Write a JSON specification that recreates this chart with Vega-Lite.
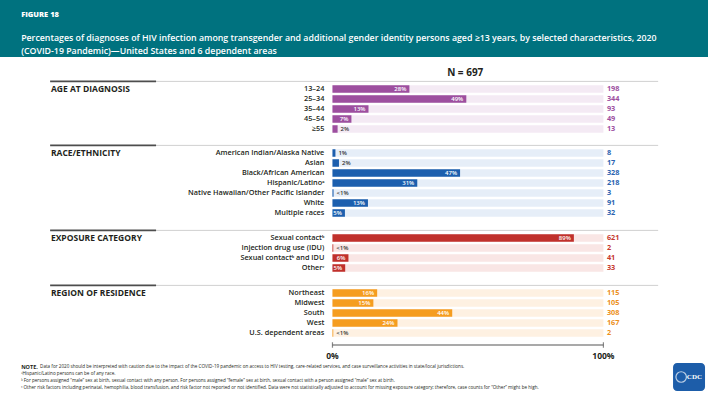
{
  "$schema": "https://vega.github.io/schema/vega-lite/v6.json",
  "background": "#ffffff",
  "padding": 0,
  "datasets": {
    "header": [
      {"kind": "fig", "text": "FIGURE 18"},
      {"kind": "title", "text": ["Percentages of diagnoses of HIV infection among transgender and additional gender identity persons aged ≥13 years, by selected characteristics, 2020", "(COVID-19 Pandemic)—United States and 6 dependent areas"]}
    ],
    "rows": [
      {"section": "age", "category": "13–24", "pct": 28.4, "count": 198, "label": "28%"},
      {"section": "age", "category": "25–34", "pct": 49.4, "count": 344, "label": "49%"},
      {"section": "age", "category": "35–44", "pct": 13.3, "count": 93, "label": "13%"},
      {"section": "age", "category": "45–54", "pct": 7.0, "count": 49, "label": "7%"},
      {"section": "age", "category": "≥55", "pct": 1.9, "count": 13, "label": "2%"},
      {"section": "race", "category": "American Indian/Alaska Native", "pct": 1.1, "count": 8, "label": "1%"},
      {"section": "race", "category": "Asian", "pct": 2.4, "count": 17, "label": "2%"},
      {"section": "race", "category": "Black/African American", "pct": 47.1, "count": 328, "label": "47%"},
      {"section": "race", "category": "Hispanic/Latinoᵃ", "pct": 31.3, "count": 218, "label": "31%"},
      {"section": "race", "category": "Native Hawaiian/Other Pacific Islander", "pct": 0.4, "count": 3, "label": "<1%"},
      {"section": "race", "category": "White", "pct": 13.1, "count": 91, "label": "13%"},
      {"section": "race", "category": "Multiple races", "pct": 4.6, "count": 32, "label": "5%"},
      {"section": "exposure", "category": "Sexual contactᵇ", "pct": 89.1, "count": 621, "label": "89%"},
      {"section": "exposure", "category": "Injection drug use (IDU)", "pct": 0.3, "count": 2, "label": "<1%"},
      {"section": "exposure", "category": "Sexual contactᵇ and IDU", "pct": 5.9, "count": 41, "label": "6%"},
      {"section": "exposure", "category": "Otherᶜ", "pct": 4.7, "count": 33, "label": "5%"},
      {"section": "region", "category": "Northeast", "pct": 16.5, "count": 115, "label": "16%"},
      {"section": "region", "category": "Midwest", "pct": 15.1, "count": 105, "label": "15%"},
      {"section": "region", "category": "South", "pct": 44.2, "count": 308, "label": "44%"},
      {"section": "region", "category": "West", "pct": 24.0, "count": 167, "label": "24%"},
      {"section": "region", "category": "U.S. dependent areas", "pct": 0.3, "count": 2, "label": "<1%"}
    ],
    "sections": [
      {"section": "age", "title": "AGE AT DIAGNOSIS"},
      {"section": "race", "title": "RACE/ETHNICITY"},
      {"section": "exposure", "title": "EXPOSURE CATEGORY"},
      {"section": "region", "title": "REGION OF RESIDENCE"}
    ],
    "meta": [{"label": "N = 697"}],
    "ticks": [{"tick": 0, "label": "0%"}, {"tick": 100, "label": "100%"}],
    "notes": [
      {"line": "n1", "lead": "NOTE.", "text": "Data for 2020 should be interpreted with caution due to the impact of the COVID-19 pandemic on access to HIV testing, care-related services, and case surveillance activities in state/local jurisdictions."},
      {"line": "n2", "lead": "", "text": "ᵃHispanic/Latino persons can be of any race."},
      {"line": "n3", "lead": "", "text": "ᵇ For persons assigned “male” sex at birth, sexual contact with any person. For persons assigned “female” sex at birth, sexual contact with a person assigned “male” sex at birth."},
      {"line": "n4", "lead": "", "text": "ᶜ Other risk factors including perinatal, hemophilia, blood transfusion, and risk factor not reported or not identified. Data were not statistically adjusted to account for missing exposure category; therefore, case counts for “Other” might be high."}
    ],
    "logo": [{"label": "CDC"}]
  },
  "spacing": 0,
  "bounds": "flush",
  "vconcat": [
    {
      "width": 708, "height": 57,
      "view": {"fill": "#00727f", "stroke": null},
      "layer": [
        {"data": {"name": "header"}, "transform": [{"filter": "datum.kind === 'fig'"}],
         "mark": {"type": "text", "align": "left", "baseline": "middle", "dy": -4, "color": "#ffffff", "fontSize": 7.5, "fontWeight": 800},
         "encoding": {
           "y": {"field": "kind", "type": "nominal", "scale": {"type": "point", "domain": ["fig", "title"], "padding": 1}},
           "x": {"datum": -114.9, "type": "quantitative", "scale": {"domain": [-122.7, 138.6], "nice": false, "zero": false}},
           "text": {"field": "text"}}},
        {"data": {"name": "header"}, "transform": [{"filter": "datum.kind === 'title'"}],
         "mark": {"type": "text", "align": "left", "baseline": "middle", "color": "#ffffff", "fontSize": 8.8, "fontWeight": 600, "lineHeight": 12.8},
         "encoding": {
           "y": {"field": "kind", "type": "nominal"},
           "x": {"datum": -114.9, "type": "quantitative"},
           "text": {"field": "text"}}}
      ]
    },
    {"width": 708, "height": 17, "data": {"values": []}, "mark": "point"},
    {
      "width": 708, "height": 60,
      "layer": [
        {"data": {"name": "rows"}, "transform": [{"filter": "datum.section === 'age'"}],
         "mark": {"type": "bar", "color": "#f4eaf4"},
         "encoding": {
           "y": {"field": "category", "type": "nominal", "scale": {"domain": ["sep", "13–24", "25–34", "35–44", "45–54", "≥55"], "paddingInner": 0.25, "paddingOuter": 0.125}},
           "x": {"datum": 0, "type": "quantitative", "scale": {"domain": [-122.7, 138.6], "nice": false, "zero": false}},
           "x2": {"datum": 100}}},
        {"data": {"name": "rows"}, "transform": [{"filter": "datum.section === 'age'"}],
         "mark": {"type": "bar", "color": "#9d4f9f"},
         "encoding": {"y": {"field": "category", "type": "nominal"}, "x": {"field": "pct", "type": "quantitative"}, "x2": {"datum": 0}}},
        {"data": {"name": "rows"}, "transform": [{"filter": "datum.section === 'age' && datum.pct >= 4.5"}],
         "mark": {"type": "text", "align": "right", "baseline": "middle", "dx": -3, "color": "#ffffff", "fontSize": 6, "fontWeight": 600},
         "encoding": {"y": {"field": "category", "type": "nominal"}, "x": {"field": "pct", "type": "quantitative"}, "text": {"field": "label"}}},
        {"data": {"name": "rows"}, "transform": [{"filter": "datum.section === 'age' && datum.pct < 4.5"}],
         "mark": {"type": "text", "align": "left", "baseline": "middle", "dx": 3, "color": "#333333", "fontSize": 6, "fontWeight": 600},
         "encoding": {"y": {"field": "category", "type": "nominal"}, "x": {"field": "pct", "type": "quantitative"}, "text": {"field": "label"}}},
        {"data": {"name": "rows"}, "transform": [{"filter": "datum.section === 'age'"}],
         "mark": {"type": "text", "align": "right", "baseline": "middle", "color": "#231f20", "fontSize": 7.3, "fontWeight": 600},
         "encoding": {"y": {"field": "category", "type": "nominal"}, "x": {"datum": -3, "type": "quantitative"}, "text": {"field": "category"}}},
        {"data": {"name": "rows"}, "transform": [{"filter": "datum.section === 'age'"}],
         "mark": {"type": "text", "align": "left", "baseline": "middle", "color": "#9d4f9f", "fontSize": 7.3, "fontWeight": "bold"},
         "encoding": {"y": {"field": "category", "type": "nominal"}, "x": {"datum": 101.3, "type": "quantitative"}, "text": {"field": "count"}}},
        {"data": {"name": "sections"}, "transform": [{"filter": "datum.section === 'age'"}],
         "mark": {"type": "rule", "color": "#d0d0d0", "strokeWidth": 1},
         "encoding": {"y": {"datum": "sep", "type": "nominal", "bandPosition": 0.82}, "x": {"datum": -65.1, "type": "quantitative"}, "x2": {"datum": 120.2}}},
        {"data": {"name": "sections"}, "transform": [{"filter": "datum.section === 'age'"}],
         "mark": {"type": "rule", "color": "#4d4d4d", "strokeWidth": 1.6},
         "encoding": {"y": {"datum": "sep", "type": "nominal", "bandPosition": 0.82}, "x": {"datum": -104.2, "type": "quantitative"}, "x2": {"datum": -65.1}}},
        {"data": {"name": "sections"}, "transform": [{"filter": "datum.section === 'age'"}],
         "mark": {"type": "text", "align": "left", "baseline": "middle", "color": "#231f20", "fontSize": 8.5, "fontWeight": "bold"},
         "encoding": {"y": {"datum": "13–24", "type": "nominal"}, "x": {"datum": -103.9, "type": "quantitative"}, "text": {"field": "title"}}},
        {"data": {"name": "meta"},
         "mark": {"type": "text", "align": "center", "baseline": "middle", "dy": -6, "color": "#231f20", "fontSize": 10, "fontWeight": "bold"},
         "encoding": {"y": {"datum": "sep", "type": "nominal"}, "x": {"datum": 49, "type": "quantitative"}, "text": {"field": "label"}}}
      ]
    },
    {"width": 708, "height": 4, "data": {"values": []}, "mark": "point"},
    {
      "width": 708, "height": 80,
      "layer": [
        {"data": {"name": "rows"}, "transform": [{"filter": "datum.section === 'race'"}],
         "mark": {"type": "bar", "color": "#e6eef8"},
         "encoding": {
           "y": {"field": "category", "type": "nominal", "scale": {"domain": ["sep", "American Indian/Alaska Native", "Asian", "Black/African American", "Hispanic/Latinoᵃ", "Native Hawaiian/Other Pacific Islander", "White", "Multiple races"], "paddingInner": 0.25, "paddingOuter": 0.125}},
           "x": {"datum": 0, "type": "quantitative", "scale": {"domain": [-122.7, 138.6], "nice": false, "zero": false}},
           "x2": {"datum": 100}}},
        {"data": {"name": "rows"}, "transform": [{"filter": "datum.section === 'race'"}],
         "mark": {"type": "bar", "color": "#1c5fae"},
         "encoding": {"y": {"field": "category", "type": "nominal"}, "x": {"field": "pct", "type": "quantitative"}, "x2": {"datum": 0}}},
        {"data": {"name": "rows"}, "transform": [{"filter": "datum.section === 'race' && datum.pct >= 4.5"}],
         "mark": {"type": "text", "align": "right", "baseline": "middle", "dx": -3, "color": "#ffffff", "fontSize": 6, "fontWeight": 600},
         "encoding": {"y": {"field": "category", "type": "nominal"}, "x": {"field": "pct", "type": "quantitative"}, "text": {"field": "label"}}},
        {"data": {"name": "rows"}, "transform": [{"filter": "datum.section === 'race' && datum.pct < 4.5"}],
         "mark": {"type": "text", "align": "left", "baseline": "middle", "dx": 3, "color": "#333333", "fontSize": 6, "fontWeight": 600},
         "encoding": {"y": {"field": "category", "type": "nominal"}, "x": {"field": "pct", "type": "quantitative"}, "text": {"field": "label"}}},
        {"data": {"name": "rows"}, "transform": [{"filter": "datum.section === 'race'"}],
         "mark": {"type": "text", "align": "right", "baseline": "middle", "color": "#231f20", "fontSize": 7.3, "fontWeight": 600},
         "encoding": {"y": {"field": "category", "type": "nominal"}, "x": {"datum": -3, "type": "quantitative"}, "text": {"field": "category"}}},
        {"data": {"name": "rows"}, "transform": [{"filter": "datum.section === 'race'"}],
         "mark": {"type": "text", "align": "left", "baseline": "middle", "color": "#2a63b0", "fontSize": 7.3, "fontWeight": "bold"},
         "encoding": {"y": {"field": "category", "type": "nominal"}, "x": {"datum": 101.3, "type": "quantitative"}, "text": {"field": "count"}}},
        {"data": {"name": "sections"}, "transform": [{"filter": "datum.section === 'race'"}],
         "mark": {"type": "rule", "color": "#d0d0d0", "strokeWidth": 1},
         "encoding": {"y": {"datum": "sep", "type": "nominal", "bandPosition": 0.82}, "x": {"datum": -65.1, "type": "quantitative"}, "x2": {"datum": 120.2}}},
        {"data": {"name": "sections"}, "transform": [{"filter": "datum.section === 'race'"}],
         "mark": {"type": "rule", "color": "#4d4d4d", "strokeWidth": 1.6},
         "encoding": {"y": {"datum": "sep", "type": "nominal", "bandPosition": 0.82}, "x": {"datum": -104.2, "type": "quantitative"}, "x2": {"datum": -65.1}}},
        {"data": {"name": "sections"}, "transform": [{"filter": "datum.section === 'race'"}],
         "mark": {"type": "text", "align": "left", "baseline": "middle", "color": "#231f20", "fontSize": 8.5, "fontWeight": "bold"},
         "encoding": {"y": {"datum": "American Indian/Alaska Native", "type": "nominal"}, "x": {"datum": -103.9, "type": "quantitative"}, "text": {"field": "title"}}}
      ]
    },
    {"width": 708, "height": 5, "data": {"values": []}, "mark": "point"},
    {
      "width": 708, "height": 50,
      "layer": [
        {"data": {"name": "rows"}, "transform": [{"filter": "datum.section === 'exposure'"}],
         "mark": {"type": "bar", "color": "#f9e6e5"},
         "encoding": {
           "y": {"field": "category", "type": "nominal", "scale": {"domain": ["sep", "Sexual contactᵇ", "Injection drug use (IDU)", "Sexual contactᵇ and IDU", "Otherᶜ"], "paddingInner": 0.25, "paddingOuter": 0.125}},
           "x": {"datum": 0, "type": "quantitative", "scale": {"domain": [-122.7, 138.6], "nice": false, "zero": false}},
           "x2": {"datum": 100}}},
        {"data": {"name": "rows"}, "transform": [{"filter": "datum.section === 'exposure'"}],
         "mark": {"type": "bar", "color": "#c0312c"},
         "encoding": {"y": {"field": "category", "type": "nominal"}, "x": {"field": "pct", "type": "quantitative"}, "x2": {"datum": 0}}},
        {"data": {"name": "rows"}, "transform": [{"filter": "datum.section === 'exposure' && datum.pct >= 4.5"}],
         "mark": {"type": "text", "align": "right", "baseline": "middle", "dx": -3, "color": "#ffffff", "fontSize": 6, "fontWeight": 600},
         "encoding": {"y": {"field": "category", "type": "nominal"}, "x": {"field": "pct", "type": "quantitative"}, "text": {"field": "label"}}},
        {"data": {"name": "rows"}, "transform": [{"filter": "datum.section === 'exposure' && datum.pct < 4.5"}],
         "mark": {"type": "text", "align": "left", "baseline": "middle", "dx": 3, "color": "#333333", "fontSize": 6, "fontWeight": 600},
         "encoding": {"y": {"field": "category", "type": "nominal"}, "x": {"field": "pct", "type": "quantitative"}, "text": {"field": "label"}}},
        {"data": {"name": "rows"}, "transform": [{"filter": "datum.section === 'exposure'"}],
         "mark": {"type": "text", "align": "right", "baseline": "middle", "color": "#231f20", "fontSize": 7.3, "fontWeight": 600},
         "encoding": {"y": {"field": "category", "type": "nominal"}, "x": {"datum": -3, "type": "quantitative"}, "text": {"field": "category"}}},
        {"data": {"name": "rows"}, "transform": [{"filter": "datum.section === 'exposure'"}],
         "mark": {"type": "text", "align": "left", "baseline": "middle", "color": "#c6392f", "fontSize": 7.3, "fontWeight": "bold"},
         "encoding": {"y": {"field": "category", "type": "nominal"}, "x": {"datum": 101.3, "type": "quantitative"}, "text": {"field": "count"}}},
        {"data": {"name": "sections"}, "transform": [{"filter": "datum.section === 'exposure'"}],
         "mark": {"type": "rule", "color": "#d0d0d0", "strokeWidth": 1},
         "encoding": {"y": {"datum": "sep", "type": "nominal", "bandPosition": 0.82}, "x": {"datum": -65.1, "type": "quantitative"}, "x2": {"datum": 120.2}}},
        {"data": {"name": "sections"}, "transform": [{"filter": "datum.section === 'exposure'"}],
         "mark": {"type": "rule", "color": "#4d4d4d", "strokeWidth": 1.6},
         "encoding": {"y": {"datum": "sep", "type": "nominal", "bandPosition": 0.82}, "x": {"datum": -104.2, "type": "quantitative"}, "x2": {"datum": -65.1}}},
        {"data": {"name": "sections"}, "transform": [{"filter": "datum.section === 'exposure'"}],
         "mark": {"type": "text", "align": "left", "baseline": "middle", "color": "#231f20", "fontSize": 8.5, "fontWeight": "bold"},
         "encoding": {"y": {"datum": "Sexual contactᵇ", "type": "nominal"}, "x": {"datum": -103.9, "type": "quantitative"}, "text": {"field": "title"}}}
      ]
    },
    {"width": 708, "height": 5, "data": {"values": []}, "mark": "point"},
    {
      "width": 708, "height": 60,
      "layer": [
        {"data": {"name": "rows"}, "transform": [{"filter": "datum.section === 'region'"}],
         "mark": {"type": "bar", "color": "#fef1e2"},
         "encoding": {
           "y": {"field": "category", "type": "nominal", "scale": {"domain": ["sep", "Northeast", "Midwest", "South", "West", "U.S. dependent areas"], "paddingInner": 0.25, "paddingOuter": 0.125}},
           "x": {"datum": 0, "type": "quantitative", "scale": {"domain": [-122.7, 138.6], "nice": false, "zero": false}},
           "x2": {"datum": 100}}},
        {"data": {"name": "rows"}, "transform": [{"filter": "datum.section === 'region'"}],
         "mark": {"type": "bar", "color": "#f59d20"},
         "encoding": {"y": {"field": "category", "type": "nominal"}, "x": {"field": "pct", "type": "quantitative"}, "x2": {"datum": 0}}},
        {"data": {"name": "rows"}, "transform": [{"filter": "datum.section === 'region' && datum.pct >= 4.5"}],
         "mark": {"type": "text", "align": "right", "baseline": "middle", "dx": -3, "color": "#ffffff", "fontSize": 6, "fontWeight": 600},
         "encoding": {"y": {"field": "category", "type": "nominal"}, "x": {"field": "pct", "type": "quantitative"}, "text": {"field": "label"}}},
        {"data": {"name": "rows"}, "transform": [{"filter": "datum.section === 'region' && datum.pct < 4.5"}],
         "mark": {"type": "text", "align": "left", "baseline": "middle", "dx": 3, "color": "#333333", "fontSize": 6, "fontWeight": 600},
         "encoding": {"y": {"field": "category", "type": "nominal"}, "x": {"field": "pct", "type": "quantitative"}, "text": {"field": "label"}}},
        {"data": {"name": "rows"}, "transform": [{"filter": "datum.section === 'region'"}],
         "mark": {"type": "text", "align": "right", "baseline": "middle", "color": "#231f20", "fontSize": 7.3, "fontWeight": 600},
         "encoding": {"y": {"field": "category", "type": "nominal"}, "x": {"datum": -3, "type": "quantitative"}, "text": {"field": "category"}}},
        {"data": {"name": "rows"}, "transform": [{"filter": "datum.section === 'region'"}],
         "mark": {"type": "text", "align": "left", "baseline": "middle", "color": "#ec8f1c", "fontSize": 7.3, "fontWeight": "bold"},
         "encoding": {"y": {"field": "category", "type": "nominal"}, "x": {"datum": 101.3, "type": "quantitative"}, "text": {"field": "count"}}},
        {"data": {"name": "sections"}, "transform": [{"filter": "datum.section === 'region'"}],
         "mark": {"type": "rule", "color": "#d0d0d0", "strokeWidth": 1},
         "encoding": {"y": {"datum": "sep", "type": "nominal", "bandPosition": 0.82}, "x": {"datum": -65.1, "type": "quantitative"}, "x2": {"datum": 120.2}}},
        {"data": {"name": "sections"}, "transform": [{"filter": "datum.section === 'region'"}],
         "mark": {"type": "rule", "color": "#4d4d4d", "strokeWidth": 1.6},
         "encoding": {"y": {"datum": "sep", "type": "nominal", "bandPosition": 0.82}, "x": {"datum": -104.2, "type": "quantitative"}, "x2": {"datum": -65.1}}},
        {"data": {"name": "sections"}, "transform": [{"filter": "datum.section === 'region'"}],
         "mark": {"type": "text", "align": "left", "baseline": "middle", "color": "#231f20", "fontSize": 8.5, "fontWeight": "bold"},
         "encoding": {"y": {"datum": "Northeast", "type": "nominal"}, "x": {"datum": -103.9, "type": "quantitative"}, "text": {"field": "title"}}}
      ]
    },
    {"width": 708, "height": 2, "data": {"values": []}, "mark": "point"},
    {
      "width": 708, "height": 20,
      "layer": [
        {"data": {"name": "ticks"},
         "mark": {"type": "rule", "color": "#555555", "strokeWidth": 1.2},
         "encoding": {
           "y": {"datum": "line", "type": "nominal", "scale": {"domain": ["line", "label"], "paddingInner": 0.25, "paddingOuter": 0.125}},
           "x": {"aggregate": "min", "field": "tick", "type": "quantitative", "scale": {"domain": [-122.7, 138.6], "nice": false, "zero": false}},
           "x2": {"aggregate": "max", "field": "tick"}}},
        {"data": {"name": "ticks"},
         "mark": {"type": "tick", "color": "#555555", "thickness": 1.2, "size": 5.5},
         "encoding": {"y": {"datum": "line", "type": "nominal"}, "x": {"field": "tick", "type": "quantitative"}}},
        {"data": {"name": "ticks"},
         "mark": {"type": "text", "align": "center", "baseline": "middle", "dy": 1, "color": "#231f20", "fontSize": 8.5, "fontWeight": "bold"},
         "encoding": {"y": {"datum": "label", "type": "nominal"}, "x": {"field": "tick", "type": "quantitative"}, "text": {"field": "label"}}}
      ]
    },
    {"width": 708, "height": 3, "data": {"values": []}, "mark": "point"},
    {
      "width": 708, "height": 28,
      "layer": [
        {"data": {"name": "notes"}, "transform": [{"filter": "datum.lead !== ''"}],
         "mark": {"type": "text", "align": "left", "baseline": "middle", "color": "#231f20", "fontSize": 5.5, "fontWeight": "bold"},
         "encoding": {
           "y": {"field": "line", "type": "nominal", "scale": {"domain": ["n1", "n2", "n3", "n4"], "paddingInner": 0, "paddingOuter": 0}},
           "x": {"datum": -114.9, "type": "quantitative", "scale": {"domain": [-122.7, 138.6], "nice": false, "zero": false}},
           "text": {"field": "lead"}}},
        {"data": {"name": "notes"}, "transform": [{"filter": "datum.lead !== ''"}],
         "mark": {"type": "text", "align": "left", "baseline": "middle", "color": "#231f20", "fontSize": 4.6},
         "encoding": {"y": {"field": "line", "type": "nominal"}, "x": {"datum": -107.9, "type": "quantitative"}, "text": {"field": "text"}}},
        {"data": {"name": "notes"}, "transform": [{"filter": "datum.lead === ''"}],
         "mark": {"type": "text", "align": "left", "baseline": "middle", "color": "#231f20", "fontSize": 4.6},
         "encoding": {"y": {"field": "line", "type": "nominal"}, "x": {"datum": -114.9, "type": "quantitative"}, "text": {"field": "text"}}},
        {"data": {"name": "logo"},
         "mark": {"type": "rect", "color": "#1d5da9", "cornerRadius": 4},
         "encoding": {"y": {"datum": "n1", "type": "nominal", "bandPosition": 0}, "y2": {"datum": "n4", "bandPosition": 1}, "x": {"datum": 125.7, "type": "quantitative"}, "x2": {"datum": 137.5}}},
        {"data": {"name": "logo"},
         "mark": {"type": "point", "shape": "circle", "filled": false, "color": "#ffffff", "size": 110, "strokeWidth": 1.2},
         "encoding": {"y": {"datum": "n2", "type": "nominal", "bandPosition": 1}, "x": {"datum": 128.7, "type": "quantitative"}}},
        {"data": {"name": "logo"},
         "mark": {"type": "text", "align": "center", "baseline": "middle", "color": "#ffffff", "fontSize": 7, "fontWeight": "bold", "font": "Liberation Serif"},
         "encoding": {"y": {"datum": "n2", "type": "nominal", "bandPosition": 1}, "x": {"datum": 133.6, "type": "quantitative"}, "text": {"field": "label"}}}
      ]
    }
  ],
  "config": {
    "view": {"stroke": null},
    "axis": {"disable": true},
    "text": {"font": "Open Sans"},
    "legend": {"disable": true}
  }
}
